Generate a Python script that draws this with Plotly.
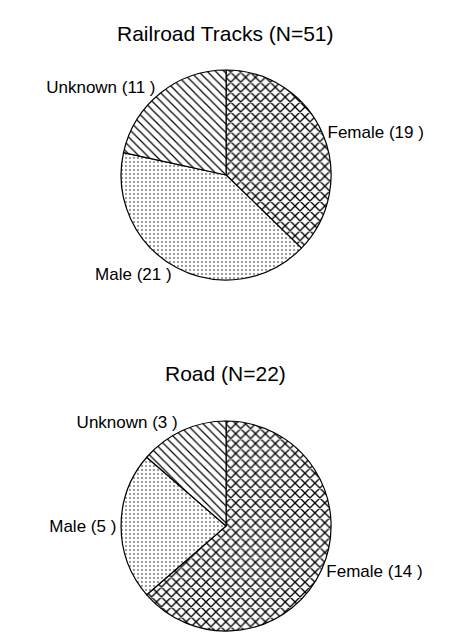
import plotly.graph_objects as go

categories = ["Female", "Male", "Unknown"]
railroad_values = [19, 21, 11]
road_values = [14, 5, 3]
titles = ["Railroad Tracks (N=51)", "Road (N=22)"]
patterns = ["x", ".", "\\"]

def label_text(vals):
    return [f"{c} ({v} )" for c, v in zip(categories, vals)]

FONT = "Liberation Sans, Arial, sans-serif"

fig = go.Figure()
pattern_sizes = [7, 4, 6]
pattern_solid = [0.35, 0.1, 0.2]
for vals, ydom in [(railroad_values, [0.5723, 0.9025]), (road_values, [0.0204, 0.3506])]:
    fig.add_trace(go.Pie(
        labels=categories,
        values=vals,
        text=label_text(vals),
        textinfo="text",
        textposition="outside",
        sort=False,
        direction="clockwise",
        rotation=0,
        hoverinfo="label+value",
        outsidetextfont=dict(family=FONT, size=17, color="black"),
        marker=dict(
            colors=["white", "white", "white"],
            line=dict(color="black", width=1.2),
            pattern=dict(shape=patterns, fgcolor="black", bgcolor="white",
                         size=pattern_sizes, solidity=pattern_solid),
        ),
        domain=dict(x=[0.244, 0.698], y=ydom),
        showlegend=False,
    ))

fig.update_layout(
    width=463, height=636,
    margin=dict(l=0, r=0, t=0, b=0),
    paper_bgcolor="white",
    plot_bgcolor="white",
    font=dict(family=FONT, color="black"),
    annotations=[
        dict(text=titles[0], x=0.4708, y=0.9811, xref="paper", yref="paper",
             showarrow=False, font=dict(family=FONT, size=21, color="black")),
        dict(text=titles[1], x=0.4708, y=0.4261, xref="paper", yref="paper",
             showarrow=False, font=dict(family=FONT, size=21, color="black")),
    ],
)

fig.write_html("out.html")
